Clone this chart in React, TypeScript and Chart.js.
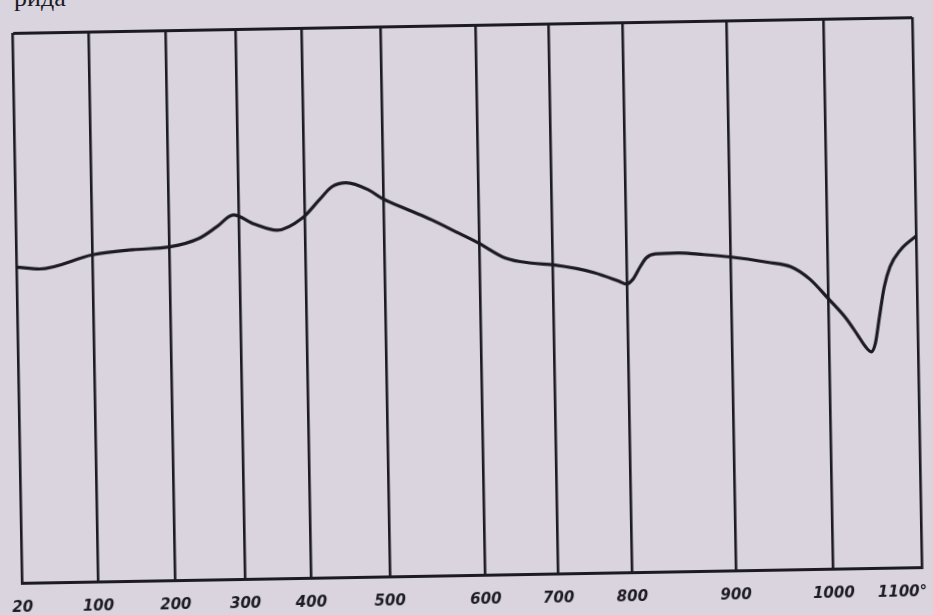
import React, { useEffect, useRef } from "react";
import { Chart, registerables, LinearScale } from "chart.js";

// Temperature (°C) tick values and labels
const TEMP_TICKS = [20, 100, 200, 300, 400, 500, 600, 700, 800, 900, 1000, 1100];
const TICK_LABELS = ["20", "100", "200", "300", "400", "500", "600", "700", "800", "900", "1000", "1100°"];

// Curve: temperature (°C) and relative deflection (arbitrary units, 0 = bottom, 100 = top)
const TEMPS = [20, 44, 100, 152, 200, 243, 268, 292, 323, 358, 396, 419, 435, 453, 482, 498, 527, 550, 578, 599, 635, 671, 701, 755, 788, 799, 806, 813, 819, 828, 850, 869, 900, 938, 962, 981, 999, 1019, 1032, 1040, 1047, 1052, 1057, 1063, 1070, 1082, 1100];
const VALUES = [57.4, 57.0, 59.4, 60.2, 60.6, 62.1, 64.1, 66.2, 64.5, 63.3, 65.4, 68.7, 71.0, 71.7, 70.3, 68.8, 66.5, 64.7, 62.2, 60.3, 57.5, 56.5, 56.1, 54.6, 53.0, 52.4, 53.3, 55.5, 57.1, 57.8, 57.9, 57.6, 57.0, 55.9, 55.0, 52.7, 49.2, 45.5, 42.4, 40.4, 39.3, 40.9, 45.6, 51.0, 54.7, 57.7, 60.2];

// Layout: fractional position of each temperature gridline across the hand-drawn (non-uniform) scale
const TICK_FRACS = [0, 0.0843, 0.1702, 0.2478, 0.321, 0.4085, 0.515, 0.5959, 0.6779, 0.7932, 0.9019, 1];

const PAPER = "#d9d4dd";
const INK = "#1c1a24";

function tempToFrac(t: number): number {
  const n = TEMP_TICKS.length;
  if (t <= TEMP_TICKS[0]) return TICK_FRACS[0];
  if (t >= TEMP_TICKS[n - 1]) return TICK_FRACS[n - 1];
  for (let i = 0; i < n - 1; i++) {
    const a = TEMP_TICKS[i], b = TEMP_TICKS[i + 1];
    if (t >= a && t <= b) {
      return TICK_FRACS[i] + ((t - a) / (b - a)) * (TICK_FRACS[i + 1] - TICK_FRACS[i]);
    }
  }
  return 1;
}

function fracToTemp(f: number): number {
  const n = TICK_FRACS.length;
  if (f <= 0) return TEMP_TICKS[0];
  if (f >= 1) return TEMP_TICKS[n - 1];
  for (let i = 0; i < n - 1; i++) {
    const a = TICK_FRACS[i], b = TICK_FRACS[i + 1];
    if (f >= a && f <= b) {
      return TEMP_TICKS[i] + ((f - a) / (b - a)) * (TEMP_TICKS[i + 1] - TEMP_TICKS[i]);
    }
  }
  return TEMP_TICKS[n - 1];
}

class PiecewiseScale extends LinearScale {
  static id = "piecewise";
  buildTicks(): any {
    return TEMP_TICKS.map((v) => ({ value: v }));
  }
  getPixelForValue(value: number): number {
    if (value === null || value === undefined || isNaN(value)) return NaN;
    return (this as any).getPixelForDecimal(tempToFrac(value));
  }
  getValueForPixel(pixel: number): number {
    return fracToTemp((this as any).getDecimalForPixel(pixel));
  }
  _computeLabelItems(chartArea: any): any {
    const items = (LinearScale.prototype as any)._computeLabelItems.call(this, chartArea);
    if (items && items.length) {
      // first label centred on the left border, last label ending just past the right border
      items[0].options.textAlign = "center";
      const last = items[items.length - 1];
      last.options.translation = [last.options.translation[0] + 5, last.options.translation[1]];
    }
    return items;
  }
}

Chart.register(...registerables, PiecewiseScale as any);

export default function App() {
  const canvasRef = useRef<HTMLCanvasElement | null>(null);

  useEffect(() => {
    document.body.style.margin = "0";
    document.body.style.background = PAPER;
    const canvas = canvasRef.current;
    if (!canvas) return;
    const data = TEMPS.map((t, i) => ({ x: t, y: VALUES[i] }));
    const chart = new Chart(canvas, {
      type: "line",
      data: {
        datasets: [
          {
            data,
            borderColor: INK,
            borderWidth: 3.2,
            pointRadius: 0,
            fill: false,
            cubicInterpolationMode: "monotone",
          },
        ],
      },
      options: {
        animation: false,
        responsive: false,
        events: [],
        layout: { padding: { left: 17.5, right: 13.5, top: 25, bottom: 15 } },
        plugins: { legend: { display: false }, tooltip: { enabled: false }, title: { display: false } },
        scales: {
          x: {
            type: "piecewise" as any,
            min: 20,
            max: 1100,
            grid: { color: INK, lineWidth: 2.6, drawTicks: false },
            border: { display: true, color: INK, width: 3 },
            ticks: {
              autoSkip: false,
              maxRotation: 0,
              minRotation: 0,
              align: "inner",
              padding: 16,
              color: INK,
              font: { family: "'DejaVu Sans'", size: 15, style: "italic", weight: "bold" },
              callback: (_v: any, i: number) => TICK_LABELS[i],
            },
          },
          y: {
            type: "linear",
            min: 0,
            max: 100,
            grid: { color: INK, lineWidth: 3, drawTicks: false },
            border: { display: false },
            ticks: { display: false, stepSize: 100 },
          },
        },
      } as any,
    });
    return () => chart.destroy();
  }, []);

  return (
    <div
      style={{
        position: "fixed",
        left: 0,
        top: 0,
        width: 933,
        height: 615,
        overflow: "hidden",
        background: PAPER,
      }}
    >
      <div
        style={{
          position: "absolute",
          left: 14,
          top: -15,
          font: "26px 'Liberation Serif'",
          lineHeight: "26px",
          color: INK,
        }}
      >
        рида
      </div>
      <div
        style={{
          position: "absolute",
          left: 0,
          top: 0,
          width: 933,
          height: 640,
          transform: "rotate(-1deg)",
          transformOrigin: "468.5px 300px",
        }}
      >
        <canvas ref={canvasRef} width={933} height={640} style={{ width: 933, height: 640, display: "block" }} />
      </div>
    </div>
  );
}
